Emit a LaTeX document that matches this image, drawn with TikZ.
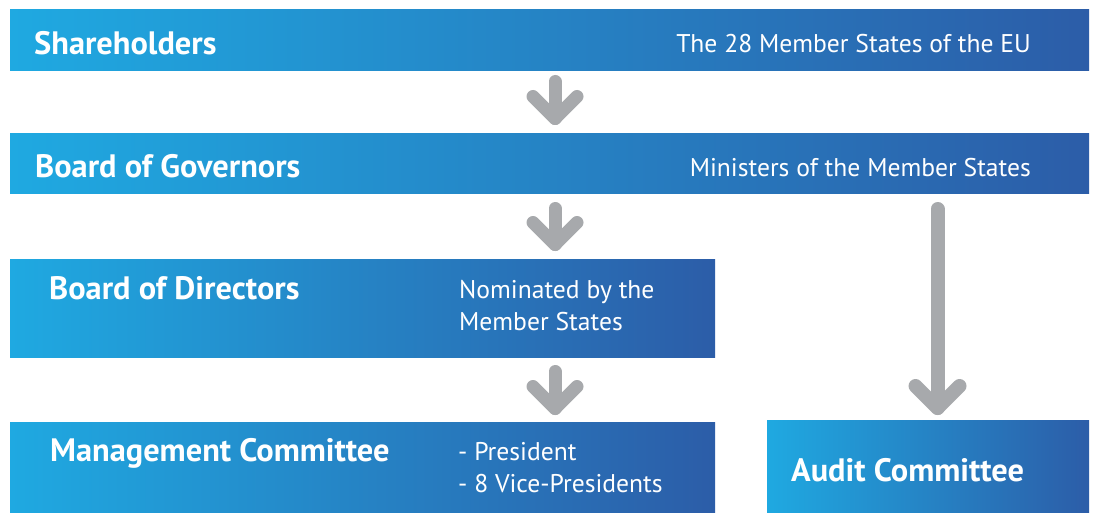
\documentclass[tikz,border=0pt]{standalone}
\usepackage{fontspec}
\setmainfont{PT Sans}
\usetikzlibrary{calc}
\definecolor{boxleft}{HTML}{1FA9E1}
\definecolor{boxright}{HTML}{2C5DA8}
\definecolor{arrowgray}{HTML}{A7A9AC}
\newcommand\garrow[4]{% x, top, tip, width
  \draw[arrowstroke, line width=#4pt] (#1,#2+#4/2) -- (#1,#3-#4/2);
  \draw[arrowstroke, line width=#4pt] (#1-22,#3-#4/2-22) -- (#1,#3-#4/2) -- (#1+22,#3-#4/2-22);
}
\tikzset{
  box/.style={anchor=north west, inner sep=0, draw=none, left color=boxleft, right color=boxright},
  title/.style={anchor=base west, inner sep=0, text=white, font=\bfseries\fontsize{32.4}{36}\selectfont},
  note/.style={anchor=base west, inner sep=0, text=white, font=\fontsize{25.6}{32}\selectfont, align=left},
  noteR/.style={note, anchor=base east},
  arrowstroke/.style={draw=arrowgray, line cap=round, line join=round},
}
\begin{document}
\begin{tikzpicture}[x=1pt,y=-1pt]
\useasboundingbox (0,0) rectangle (1099,513);
\fill[white] (0,0) rectangle (1099,513);
\node[box, minimum width=1079pt, minimum height=61pt] (sh) at (10,9) {};
\node[box, minimum width=1079pt, minimum height=60pt] (bg) at (10,133) {};
\node[box, minimum width=705pt, minimum height=98pt] (bd) at (10,259) {};
\node[box, minimum width=705pt, minimum height=90pt] (mc) at (10,422) {};
\node[box, minimum width=322pt, minimum height=92pt] (ac) at (767,420) {};

\node[title] (t1) at (34,55) {Shareholders};
\node[noteR] (n1) at (1031,53) {The 28 Member States of the EU};
\node[title] (t2) at (35,178) {Board of Governors};
\node[noteR] (n2) at (1031,177) {Ministers of the Member States};
\node[title] (t3) at (49,299) {Board of Directors};
\node[note] (n3a) at (459,298) {Nominated by the};
\node[note] (n3b) at (459,330) {Member States};
\node[title] (t4) at (50,461) {Management Committee};
\node[note] (n4a) at (458,460) {- President};
\node[note] (n4b) at (458,492) {- 8 Vice-Presidents};
\node[title] (t5) at (791,481) {Audit Committee};

\garrow{555}{75}{125}{13}
\garrow{555}{202}{251}{13}
\garrow{555}{365}{415}{13}
\garrow{937.5}{202}{415}{14}
\end{tikzpicture}
\end{document}
